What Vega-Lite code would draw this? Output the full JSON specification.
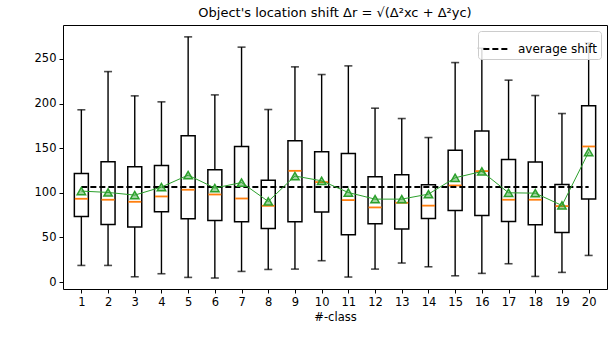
{
  "$schema": "https://vega.github.io/schema/vega-lite/v6.json",
  "autosize": "none",
  "padding": {"left": 63, "top": 25, "right": 1, "bottom": 69},
  "width": 544,
  "height": 264,
  "background": "white",
  "title": {"text": "Object's location shift Δr = √(Δ²xc + Δ²yc)", "font": "DejaVu Sans", "fontSize": 13, "fontWeight": "normal", "color": "black", "offset": 5, "anchor": "middle"},
  "config": {
    "view": {"stroke": "black", "strokeWidth": 1},
    "axis": {"labelFont": "DejaVu Sans", "titleFont": "DejaVu Sans", "labelFontSize": 11.5, "titleFontSize": 11.5, "labelColor": "black", "titleColor": "black", "tickColor": "black", "domain": false, "grid": false, "tickSize": 4, "labelPadding": 3, "titleFontWeight": "normal"},
    "legend": {"orient": "top-right", "offset": 6, "fillColor": "rgba(255,255,255,0.85)", "strokeColor": "#cccccc", "cornerRadius": 3, "padding": 4, "labelFont": "DejaVu Sans", "labelFontSize": 12, "labelColor": "black", "labelOffset": 8, "symbolType": "stroke", "symbolStrokeWidth": 2, "symbolSize": 640, "symbolStrokeColor": "black"}
  },
  "datasets": {
    "boxes": [
      {"cls": 1, "low": 18.6, "q1": 73.5, "med": 93.3, "q3": 121.6, "high": 193, "mean": 101.9},
      {"cls": 2, "low": 18.6, "q1": 64.5, "med": 92.2, "q3": 134.7, "high": 235.8, "mean": 100.4},
      {"cls": 3, "low": 5.9, "q1": 61.6, "med": 89.9, "q3": 129.1, "high": 208.6, "mean": 97.4},
      {"cls": 4, "low": 9.3, "q1": 78.7, "med": 95.9, "q3": 130.6, "high": 201.9, "mean": 106.4},
      {"cls": 5, "low": 5.2, "q1": 70.9, "med": 103.4, "q3": 163.8, "high": 274.7, "mean": 119.8},
      {"cls": 6, "low": 4.5, "q1": 69, "med": 98.1, "q3": 125.8, "high": 209.7, "mean": 105.3},
      {"cls": 7, "low": 11.9, "q1": 67.5, "med": 93.6, "q3": 151.9, "high": 263.2, "mean": 111.5},
      {"cls": 8, "low": 14.1, "q1": 60, "med": 85.4, "q3": 114, "high": 193.3, "mean": 90.3},
      {"cls": 9, "low": 14.5, "q1": 67.5, "med": 124.6, "q3": 158.2, "high": 241.1, "mean": 118.8},
      {"cls": 10, "low": 23.9, "q1": 78.4, "med": 112, "q3": 145.9, "high": 232.5, "mean": 113.4},
      {"cls": 11, "low": 5.6, "q1": 53, "med": 91.8, "q3": 144, "high": 242.2, "mean": 100.3},
      {"cls": 12, "low": 14.5, "q1": 65.3, "med": 83.6, "q3": 118, "high": 194.8, "mean": 92.9},
      {"cls": 13, "low": 21.3, "q1": 59.3, "med": 88.8, "q3": 120.2, "high": 183.2, "mean": 92.9},
      {"cls": 14, "low": 17.1, "q1": 71.3, "med": 85.6, "q3": 109, "high": 161.9, "mean": 98.5},
      {"cls": 15, "low": 7, "q1": 80.2, "med": 108.2, "q3": 147.8, "high": 245.9, "mean": 116.8},
      {"cls": 16, "low": 9.7, "q1": 74.6, "med": 124.3, "q3": 169.1, "high": 262, "mean": 123.9},
      {"cls": 17, "low": 20.5, "q1": 67.9, "med": 92.2, "q3": 137.3, "high": 226.2, "mean": 100},
      {"cls": 18, "low": 6.3, "q1": 64.2, "med": 92.2, "q3": 134.4, "high": 209, "mean": 99.6},
      {"cls": 19, "low": 10.8, "q1": 55.5, "med": 85.1, "q3": 109.3, "high": 188.8, "mean": 85.8},
      {"cls": 20, "low": 29.8, "q1": 93, "med": 151.9, "q3": 197.4, "high": 268, "mean": 145.6}
    ],
    "avg": [
      {"from": 1, "to": 20, "value": 106.4, "label": "average shift"}
    ]
  },
  "encoding": {
    "x": {"field": "cls", "type": "quantitative", "scale": {"domain": [0.5, 20.5], "nice": false, "zero": false},
          "axis": {"title": "#-class", "values": [1,2,3,4,5,6,7,8,9,10,11,12,13,14,15,16,17,18,19,20], "format": "d", "labelFlush": false, "titlePadding": 4}}
  },
  "layer": [
    {
      "data": {"name": "boxes"},
      "mark": {"type": "rule", "color": "black", "strokeWidth": 1.4},
      "encoding": {
        "y": {"field": "low", "type": "quantitative", "scale": {"domain": [-7.8, 288], "nice": false, "zero": false},
              "axis": {"title": null, "values": [0, 50, 100, 150, 200, 250]}},
        "y2": {"field": "high"}
      }
    },
    {
      "data": {"name": "boxes"},
      "mark": {"type": "tick", "orient": "horizontal", "color": "black", "size": 8, "thickness": 1.6},
      "encoding": {"y": {"field": "low", "type": "quantitative"}}
    },
    {
      "data": {"name": "boxes"},
      "mark": {"type": "tick", "orient": "horizontal", "color": "black", "size": 8, "thickness": 1.6},
      "encoding": {"y": {"field": "high", "type": "quantitative"}}
    },
    {
      "data": {"name": "boxes"},
      "mark": {"type": "bar", "size": 14, "fill": "white", "stroke": "black", "strokeWidth": 1.5},
      "encoding": {"y": {"field": "q1", "type": "quantitative"}, "y2": {"field": "q3"}}
    },
    {
      "data": {"name": "boxes"},
      "mark": {"type": "tick", "orient": "horizontal", "color": "#ff7f0e", "size": 13, "thickness": 1.8, "opacity": 1},
      "encoding": {"y": {"field": "med", "type": "quantitative"}}
    },
    {
      "data": {"name": "avg"},
      "mark": {"type": "rule", "color": "black", "strokeWidth": 2},
      "encoding": {
        "x": {"field": "from", "type": "quantitative"},
        "x2": {"field": "to"},
        "y": {"field": "value", "type": "quantitative"},
        "strokeDash": {"field": "label", "type": "nominal", "scale": {"domain": ["average shift"], "range": [[6, 3]]}, "legend": {"title": null}}
      }
    },
    {
      "data": {"name": "boxes"},
      "mark": {"type": "line", "color": "#2ca02c", "strokeWidth": 1},
      "encoding": {"y": {"field": "mean", "type": "quantitative"}}
    },
    {
      "data": {"name": "boxes"},
      "mark": {"type": "point", "shape": "triangle-up", "size": 70, "filled": true, "fill": "#2ca02c", "fillOpacity": 0.45, "stroke": "#2ca02c", "strokeWidth": 1.5, "opacity": 1},
      "encoding": {"y": {"field": "mean", "type": "quantitative"}}
    }
  ]
}
